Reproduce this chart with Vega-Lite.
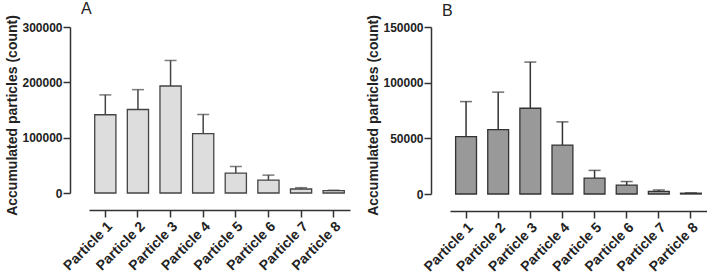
{
  "$schema": "https://vega.github.io/schema/vega-lite/v6.json",
  "padding": {"left": 5, "top": 0, "right": 0, "bottom": 0},
  "background": "white",
  "spacing": 16,
  "config": {
    "view": {"stroke": null},
    "font": "Liberation Sans",
    "axis": {
      "domainColor": "#333333", "domainWidth": 1.5, "tickColor": "#333333", "tickWidth": 1.5, "tickSize": 7,
      "labelFont": "Liberation Sans", "labelFontWeight": "bold", "labelFontSize": 12, "labelColor": "#222222",
      "titleFont": "Liberation Sans", "titleFontWeight": "bold", "titleFontSize": 14, "titleColor": "#222222",
      "grid": false
    }
  },
  "datasets": {
    "a": [
      {"particle": "Particle 1", "mean": 141400, "upper": 177300},
      {"particle": "Particle 2", "mean": 150900, "upper": 186800},
      {"particle": "Particle 3", "mean": 193400, "upper": 239500},
      {"particle": "Particle 4", "mean": 107200, "upper": 141900},
      {"particle": "Particle 5", "mean": 35900, "upper": 47900},
      {"particle": "Particle 6", "mean": 23400, "upper": 32300},
      {"particle": "Particle 7", "mean": 7200, "upper": 9600},
      {"particle": "Particle 8", "mean": 4200, "upper": 5000}
    ],
    "b": [
      {"particle": "Particle 1", "mean": 51500, "upper": 83000},
      {"particle": "Particle 2", "mean": 57900, "upper": 91500},
      {"particle": "Particle 3", "mean": 77000, "upper": 118500},
      {"particle": "Particle 4", "mean": 43900, "upper": 64800},
      {"particle": "Particle 5", "mean": 14200, "upper": 21200},
      {"particle": "Particle 6", "mean": 7900, "upper": 11200},
      {"particle": "Particle 7", "mean": 2400, "upper": 3600},
      {"particle": "Particle 8", "mean": 700, "upper": 1000}
    ]
  },
  "hconcat": [
    {
      "data": {"name": "a"},
      "width": 261, "height": 166,
      "title": {"text": "A", "anchor": "start", "frame": "group", "fontSize": 16, "fontWeight": "normal", "font": "Liberation Sans", "color": "#222222", "dx": -8, "offset": -2},
      "encoding": {
        "x": {"field": "particle", "type": "nominal", "sort": null,
          "scale": {"paddingInner": 0.35, "paddingOuter": 0.175},
          "axis": {"title": null, "labelAngle": -45, "labelFontSize": 14, "offset": 17, "labelPadding": 2}}
      },
      "layer": [
        {"mark": {"type": "rule", "color": "#444444", "strokeWidth": 1.5},
         "encoding": {"y": {"field": "mean", "type": "quantitative"}, "y2": {"field": "upper"}}},
        {"mark": {"type": "tick", "color": "#444444", "thickness": 1.5, "size": 12, "orient": "horizontal"},
         "encoding": {"y": {"field": "upper", "type": "quantitative"}}},
        {"mark": {"type": "bar", "fill": "#dddddd", "stroke": "#444444", "strokeWidth": 1.3},
         "encoding": {"y": {"field": "mean", "type": "quantitative",
           "scale": {"domain": [0, 300000], "nice": false},
           "axis": {"title": "Accumulated particles (count)", "values": [0, 100000, 200000, 300000], "format": "d", "offset": 19, "labelPadding": 1, "titlePadding": 2, "titleY": 88}}}}
      ]
    },
    {
      "data": {"name": "b"},
      "width": 257, "height": 167,
      "title": {"text": "B", "anchor": "start", "frame": "group", "fontSize": 16, "fontWeight": "normal", "font": "Liberation Sans", "color": "#222222", "dx": -8, "offset": -4},
      "encoding": {
        "x": {"field": "particle", "type": "nominal", "sort": null,
          "scale": {"paddingInner": 0.35, "paddingOuter": 0.175},
          "axis": {"title": null, "labelAngle": -45, "labelFontSize": 14, "offset": 17, "labelPadding": 2}}
      },
      "layer": [
        {"mark": {"type": "rule", "color": "#333333", "strokeWidth": 1.5},
         "encoding": {"y": {"field": "mean", "type": "quantitative"}, "y2": {"field": "upper"}}},
        {"mark": {"type": "tick", "color": "#333333", "thickness": 1.5, "size": 12, "orient": "horizontal"},
         "encoding": {"y": {"field": "upper", "type": "quantitative"}}},
        {"mark": {"type": "bar", "fill": "#999999", "stroke": "#333333", "strokeWidth": 1.3},
         "encoding": {"y": {"field": "mean", "type": "quantitative",
           "scale": {"domain": [0, 150000], "nice": false},
           "axis": {"title": "Accumulated particles (count)", "values": [0, 50000, 100000, 150000], "format": "d", "offset": 19, "labelPadding": 1, "titlePadding": 2, "titleY": 88}}}}
      ]
    }
  ]
}
